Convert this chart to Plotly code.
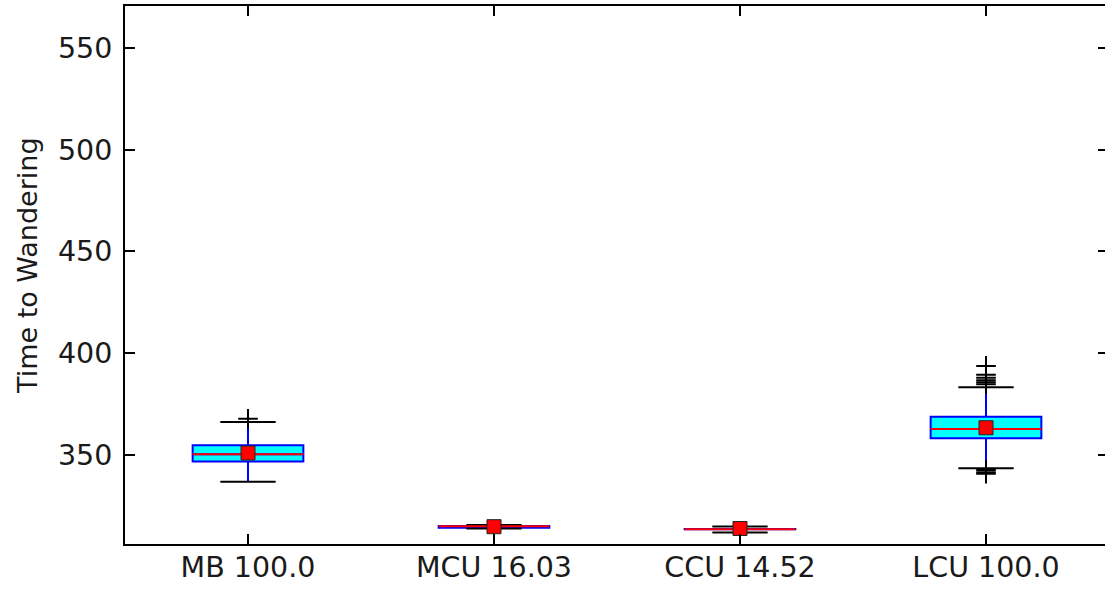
import plotly.graph_objects as go

# ---- data ----
positions = [1, 2, 3, 4]
labels = ["MB 100.0", "MCU 16.03", "CCU 14.52", "LCU 100.0"]
q1 = [346.8, 314.3, 313.5, 358.2]
medians = [350.4, 315.0, 313.6, 362.8]
q3 = [354.8, 315.1, 313.7, 368.8]
lower_whisker = [336.9, 313.9, 312.0, 343.5]
upper_whisker = [366.2, 315.6, 314.9, 383.3]
means = [351.0, 314.8, 313.9, 363.4]
outliers = [
    [367.8],
    [],
    [],
    [393.8, 389.4, 388.0, 386.8, 385.8, 384.8, 342.6, 341.6, 340.8],
]
y_ticks = [350, 400, 450, 500, 550]
y_range = [306.3, 570.6]

# ---- styling ----
BOX_W = 0.45
CAP_HALF = BOX_W / 4
TXT = "#1a1a1a"
FONT = dict(family="DejaVu Sans", size=28.5, color=TXT)
LABEL_FONT = dict(family="DejaVu Sans", size=27, color=TXT)

fig = go.Figure()

fig.add_trace(go.Box(
    x=positions, q1=q1, median=medians, q3=q3,
    lowerfence=lower_whisker, upperfence=upper_whisker,
    width=BOX_W, fillcolor="#00FFFF",
    line=dict(color="#0000FF", width=2),
    whiskerwidth=0, boxpoints=False, hoverinfo="skip", showlegend=False,
))

# caps
cx, cy = [], []
for p, lo, hi in zip(positions, lower_whisker, upper_whisker):
    for v in (lo, hi):
        cx += [p - CAP_HALF, p + CAP_HALF, None]
        cy += [v, v, None]
fig.add_trace(go.Scatter(x=cx, y=cy, mode="lines",
                         line=dict(color="#000000", width=2),
                         hoverinfo="skip", showlegend=False))

# medians
mx, my = [], []
for p, m in zip(positions, medians):
    mx += [p - BOX_W / 2, p + BOX_W / 2, None]
    my += [m, m, None]
fig.add_trace(go.Scatter(x=mx, y=my, mode="lines",
                         line=dict(color="#FF0000", width=2),
                         hoverinfo="skip", showlegend=False))

# outliers
ox, oy = [], []
for p, vals in zip(positions, outliers):
    for v in vals:
        ox.append(p)
        oy.append(v)
fig.add_trace(go.Scatter(x=ox, y=oy, mode="markers",
                         marker=dict(symbol="cross-thin-open", size=14,
                                     color="#000000",
                                     line=dict(color="#000000", width=2)),
                         hoverinfo="skip", showlegend=False))

# means
fig.add_trace(go.Scatter(x=positions, y=means, mode="markers",
                         marker=dict(symbol="square", size=14, color="#FF0000",
                                     line=dict(color="#222222", width=1)),
                         hoverinfo="skip", showlegend=False))

# helper trace for the right-side tick axis
fig.add_trace(go.Scatter(x=[None], y=[None], yaxis="y2", mode="markers",
                         hoverinfo="skip", showlegend=False))

x_end = 0.5 + 980 / 246

fig.update_layout(
    width=1105, height=590,
    margin=dict(l=125, r=0, t=6, b=46),
    plot_bgcolor="white", paper_bgcolor="white",
    font=FONT,
    xaxis=dict(
        range=[0.5, x_end], tickvals=positions, ticktext=labels,
        ticks="inside", ticklen=10, tickwidth=1.5, tickcolor="#000",
        showline=True, linewidth=2, linecolor="#000", mirror="ticks",
        showgrid=False, zeroline=False, tickfont=FONT, ticklabelstandoff=-3,
    ),
    yaxis=dict(
        range=y_range, tickvals=y_ticks,
        ticks="inside", ticklen=10, tickwidth=1.5, tickcolor="#000",
        showline=True, linewidth=2, linecolor="#000",
        showgrid=False, zeroline=False, tickfont=FONT, ticklabelstandoff=5,
    ),
    yaxis2=dict(
        range=y_range, tickvals=y_ticks, overlaying="y", side="right",
        ticks="inside", ticklen=7, tickwidth=1.5, tickcolor="#000",
        showline=False, showgrid=False, zeroline=False, showticklabels=False,
    ),
    annotations=[dict(
        text="Time to Wandering", xref="paper", yref="paper",
        x=0, y=0.5, xanchor="center", yanchor="middle", xshift=-98, yshift=9,
        textangle=-90, showarrow=False, font=LABEL_FONT,
    )],
)

fig.write_html("out.html")
